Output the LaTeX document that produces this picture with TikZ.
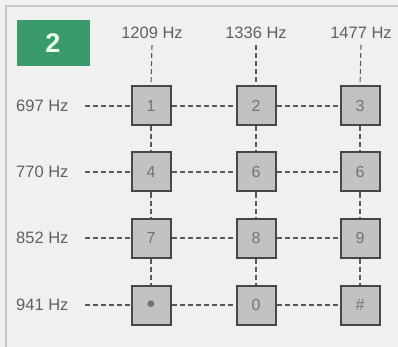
\documentclass[tikz,border=0pt]{standalone}
\usepackage{fontspec}
\setmainfont{Liberation Sans}
\begin{document}
\begin{tikzpicture}[x=1pt,y=-1pt,
  lbl/.style={text=black!62, font=\fontsize{16.5}{16.5}\selectfont, inner sep=0pt},
  keybox/.style={draw=black!72, line width=2pt, fill=black!24, minimum size=39pt, inner sep=0pt, text=black!55, font=\fontsize{16}{16}\selectfont},
  dsh/.style={draw=black!65, line width=1.1pt, dash pattern=on 5pt off 3pt}]
\definecolor{bgc}{HTML}{EFF1F1}
\definecolor{grn}{HTML}{3B9A6B}
\useasboundingbox (0,0) rectangle (398,347);
\fill[bgc] (0,0) rectangle (398,347);
\draw[black!22, line width=1.5pt] (6,347) -- (6,6) -- (398,6);
\node[fill=grn, minimum width=73pt, minimum height=46pt, inner sep=0pt, text=white!92!green, font=\fontsize{27}{27}\selectfont\bfseries] (badge) at (53,43) {2};
% column labels
\node[lbl] (c1) at (152,33) {1209 Hz};
\node[lbl] (c2) at (256,33) {1336 Hz};
\node[lbl] (c3) at (361,33) {1477 Hz};
% row labels
\node[lbl, anchor=west] (r1) at (16,106) {697 Hz};
\node[lbl, anchor=west] (r2) at (16,172) {770 Hz};
\node[lbl, anchor=west] (r3) at (16,238) {852 Hz};
\node[lbl, anchor=west] (r4) at (16,305) {941 Hz};
% keys
\node[keybox] (k1) at (151,106) {1};
\node[keybox] (k2) at (256,106) {2};
\node[keybox] (k3) at (360,106) {3};
\node[keybox] (k4) at (151,172) {4};
\node[keybox] (k5) at (256,172) {6};
\node[keybox] (k6) at (360,172) {6};
\node[keybox] (k7) at (151,238) {7};
\node[keybox] (k8) at (256,238) {8};
\node[keybox] (k9) at (360,238) {9};
\node[keybox] (ks) at (151,305) {$\bullet$};
\node[keybox] (k0) at (256,305) {0};
\node[keybox] (kh) at (360,305) {\#};
% vertical dashes
\path[dsh] ([yshift=-6pt]c1.south) -- (k1.north);
\path[dsh] ([yshift=-6pt]c2.south) -- (k2.north);
\path[dsh] ([yshift=-6pt]c3.south) -- (k3.north);
\path[dsh] (k1) -- (k4); \path[dsh] (k4) -- (k7); \path[dsh] (k7) -- (ks);
\path[dsh] (k2) -- (k5); \path[dsh] (k5) -- (k8); \path[dsh] (k8) -- (k0);
\path[dsh] (k3) -- (k6); \path[dsh] (k6) -- (k9); \path[dsh] (k9) -- (kh);
% horizontal dashes
\path[dsh] ([xshift=16pt]r1.east) -- (k1.west);
\path[dsh] ([xshift=16pt]r2.east) -- (k4.west);
\path[dsh] ([xshift=16pt]r3.east) -- (k7.west);
\path[dsh] ([xshift=16pt]r4.east) -- (ks.west);
\path[dsh] (k1) -- (k2); \path[dsh] (k2) -- (k3);
\path[dsh] (k4) -- (k5); \path[dsh] (k5) -- (k6);
\path[dsh] (k7) -- (k8); \path[dsh] (k8) -- (k9);
\path[dsh] (ks) -- (k0); \path[dsh] (k0) -- (kh);
\end{tikzpicture}
\end{document}
